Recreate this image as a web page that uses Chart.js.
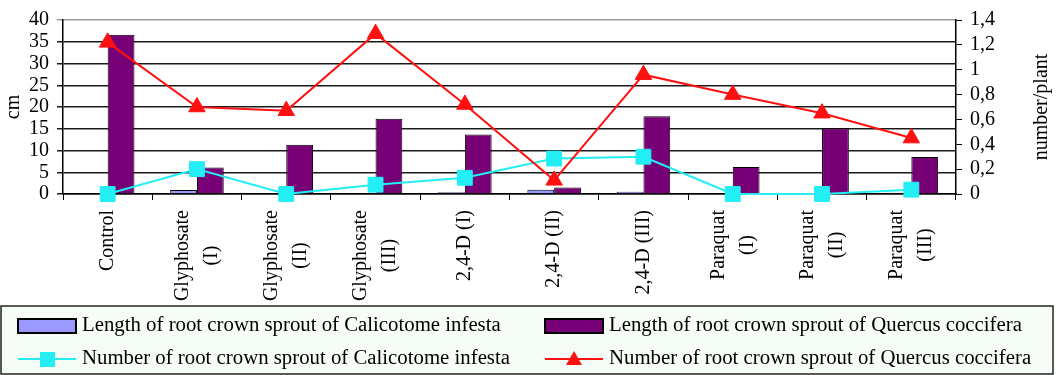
<!DOCTYPE html>
<html>
<head>
<meta charset="utf-8">
<title>Root crown sprouts</title>
<script src="https://cdn.jsdelivr.net/npm/chart.js@4.4.0/dist/chart.umd.min.js"></script>
<style>
  body { margin: 0; background: #fff; }
  #wrap { width: 1058px; height: 375px; }
</style>
</head>
<body>
<div id="wrap"><canvas id="sproutChart" width="1058" height="375"></canvas></div>
<script>
// Treatments (each entry = lines of the rotated axis label)
const categories = [
    ['Control'],
    ['Glyphosate', '(I)'],
    ['Glyphosate', '(II)'],
    ['Glyphosate', '(III)'],
    ['2,4-D (I)'],
    ['2,4-D (II)'],
    ['2,4-D (III)'],
    ['Paraquat', '(I)'],
    ['Paraquat', '(II)'],
    ['Paraquat', '(III)']
];

// Length of sprouts (cm, left axis)
const lengthCalicotome = [0, 0.9, 0, 0.2, 0.4, 1.0, 0.5, 0, 0, 0.3];
const lengthQuercus    = [36.6, 6.1, 11.3, 17.3, 13.7, 1.5, 17.9, 6.2, 15.1, 8.5];

// Number of sprouts (number/plant, right axis)
const numberCalicotome = [0, 0.20, 0, 0.075, 0.13, 0.285, 0.30, 0, 0, 0.035];
const numberQuercus    = [1.22, 0.70, 0.67, 1.29, 0.72, 0.11, 0.96, 0.80, 0.65, 0.45];

// Axis ranges
const cmTicks = { min: 0, max: 40, step: 5 };
const perPlantTicks = { min: 0, max: 1.4, step: 0.2 };

const seriesNames = [
    'Length of root crown sprout of Calicotome infesta',
    'Length of root crown sprout of Quercus coccifera',
    'Number of root crown sprout of Calicotome infesta',
    'Number of root crown sprout of Quercus coccifera'
];

const colors = {
    lavender: '#9999ff',
    purple:   '#770077',
    cyan:     '#22eef4',
    red:      '#ff1010',
    legendBg: '#f6fcf6'
};

const FONT = '"Liberation Serif", "Times New Roman", serif';

// ── custom drawing: x labels (centered lines), right title, boxed legend ──
const extrasPlugin = {
    id: 'extras',
    afterDraw(chart) {
        const ctx = chart.ctx;
        const xs = chart.scales.x;
        ctx.save();
        ctx.fillStyle = '#000';
        ctx.font = '20px ' + FONT;

        // category labels, rotated, read bottom to top
        ctx.textAlign = 'center';
        ctx.textBaseline = 'middle';
        const top = xs.top + 16;
        categories.forEach((lines, i) => {
            const cx = xs.getPixelForTick(i);
            const w = Math.max(...lines.map(l => ctx.measureText(l).width));
            lines.forEach((line, j) => {
                const lx = cx + (j - (lines.length - 1) / 2) * 29;
                ctx.save();
                ctx.translate(lx, top + w / 2);
                ctx.rotate(-Math.PI / 2);
                ctx.fillText(line, 0, 0);
                ctx.restore();
            });
        });

        // right axis title
        const ca = chart.chartArea;
        ctx.save();
        ctx.translate(1042, (ca.top + ca.bottom) / 2);
        ctx.rotate(-Math.PI / 2);
        ctx.fillText('number/plant', 0, 0);
        ctx.restore();

        // legend box
        ctx.fillStyle = colors.legendBg;
        ctx.fillRect(1, 306, 1052, 68);
        ctx.strokeStyle = '#222';
        ctx.lineWidth = 1.5;
        ctx.strokeRect(1, 306, 1052, 68);

        const cols = [18, 545];
        const rows = [326, 359];
        ctx.textAlign = 'left';

        // bar swatches
        [colors.lavender, colors.purple].forEach((c, k) => {
            ctx.fillStyle = c;
            ctx.fillRect(cols[k], rows[0] - 7, 58, 14);
            ctx.strokeStyle = '#000';
            ctx.lineWidth = 2;
            ctx.strokeRect(cols[k], rows[0] - 7, 58, 14);
        });

        // line swatches
        [colors.cyan, colors.red].forEach((c, k) => {
            const x0 = cols[k], y = rows[1];
            ctx.strokeStyle = c;
            ctx.lineWidth = 2;
            ctx.beginPath();
            ctx.moveTo(x0, y);
            ctx.lineTo(x0 + 58, y);
            ctx.stroke();
            ctx.fillStyle = c;
            if (k === 0) {
                ctx.fillRect(x0 + 22, y - 7, 15, 15);
            } else {
                ctx.beginPath();
                ctx.moveTo(x0 + 29, y - 8);
                ctx.lineTo(x0 + 37, y + 6);
                ctx.lineTo(x0 + 21, y + 6);
                ctx.closePath();
                ctx.fill();
            }
        });

        ctx.fillStyle = '#000';
        ctx.textBaseline = 'middle';
        ctx.font = '20.8px ' + FONT;
        ctx.fillText(seriesNames[0], cols[0] + 64, rows[0]);
        ctx.fillText(seriesNames[1], cols[1] + 64, rows[0]);
        ctx.fillText(seriesNames[2], cols[0] + 64, rows[1]);
        ctx.fillText(seriesNames[3], cols[1] + 64, rows[1]);
        ctx.restore();
    }
};

const ctxChart = document.getElementById('sproutChart');
new Chart(ctxChart, {
    type: 'bar',
    data: {
        labels: categories.map(c => c.join(' ')),
        datasets: [
            {
                type: 'line',
                label: seriesNames[3],
                data: numberQuercus,
                yAxisID: 'y1',
                borderColor: colors.red,
                backgroundColor: colors.red,
                borderWidth: 2,
                pointStyle: 'triangle',
                pointRadius: 9.5,
                pointBorderWidth: 1,
                clip: false,
                order: 0
            },
            {
                type: 'line',
                label: seriesNames[2],
                data: numberCalicotome,
                yAxisID: 'y1',
                borderColor: colors.cyan,
                backgroundColor: colors.cyan,
                borderWidth: 2,
                pointStyle: 'rect',
                pointRadius: 10.5,
                pointBorderWidth: 1,
                clip: false,
                order: 0
            },
            {
                label: seriesNames[0],
                data: lengthCalicotome,
                yAxisID: 'y',
                backgroundColor: colors.lavender,
                borderColor: '#000',
                borderWidth: 1,
                categoryPercentage: 0.6,
                barPercentage: 1,
                order: 1
            },
            {
                label: seriesNames[1],
                data: lengthQuercus,
                yAxisID: 'y',
                backgroundColor: colors.purple,
                borderColor: '#000',
                borderWidth: 1,
                categoryPercentage: 0.6,
                barPercentage: 1,
                order: 1
            }
        ]
    },
    options: {
        responsive: false,
        animation: false,
        layout: { padding: { top: 14, left: 0, right: 0, bottom: 0 } },
        plugins: {
            legend: { display: false },
            tooltip: { enabled: false }
        },
        scales: {
            x: {
                afterFit: s => { s.height = 181; },
                grid: { drawOnChartArea: false, drawTicks: true, tickLength: 6, color: '#000', lineWidth: 1, offset: true },
                border: { color: '#000', width: 1.5 },
                ticks: { display: false }
            },
            y: {
                position: 'left',
                min: cmTicks.min,
                max: cmTicks.max,
                afterFit: s => { s.width = 63; },
                ticks: {
                    stepSize: cmTicks.step,
                    autoSkip: false,
                    color: '#000',
                    padding: 8,
                    font: { family: FONT, size: 20 }
                },
                grid: {
                    color: c => (c.tick && c.tick.value === cmTicks.max) ? '#999' : '#1a1a1a',
                    lineWidth: 1.5,
                    tickLength: 6
                },
                border: { color: '#000', width: 1.5 },
                title: {
                    display: true,
                    text: 'cm',
                    color: '#000',
                    font: { family: FONT, size: 20 },
                    padding: { top: 2, bottom: 2 }
                }
            },
            y1: {
                position: 'right',
                min: perPlantTicks.min,
                max: perPlantTicks.max,
                afterFit: s => { s.width = 102; },
                ticks: {
                    stepSize: perPlantTicks.step,
                    autoSkip: false,
                    color: '#000',
                    padding: 8,
                    font: { family: FONT, size: 20 },
                    callback: v => String(Math.round(v * 10) / 10).replace('.', ',')
                },
                grid: { drawOnChartArea: false, color: '#000', tickLength: 6 },
                border: { color: '#000', width: 1.5 }
            }
        }
    },
    plugins: [extrasPlugin]
});
</script>
</body>
</html>
